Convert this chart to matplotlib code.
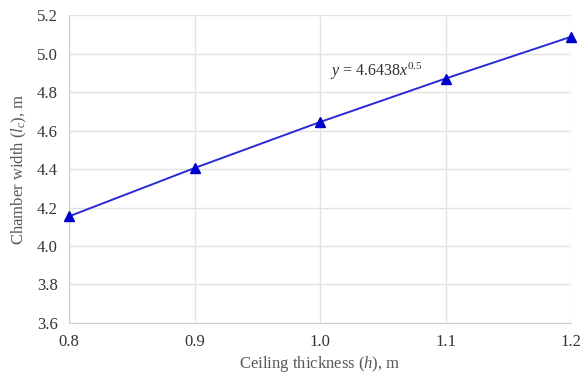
import matplotlib
matplotlib.use("Agg")
import matplotlib.pyplot as plt

# data
thickness = [0.8, 0.9, 1.0, 1.1, 1.2]
width = [4.154, 4.405, 4.644, 4.870, 5.087]
x_ticks = [0.8, 0.9, 1.0, 1.1, 1.2]
y_ticks = [3.6, 3.8, 4.0, 4.2, 4.4, 4.6, 4.8, 5.0, 5.2]

plt.rcParams['font.family'] = ['Liberation Serif', 'DejaVu Serif']
plt.rcParams['mathtext.fontset'] = 'custom'
plt.rcParams['mathtext.rm'] = 'Liberation Serif'
plt.rcParams['mathtext.it'] = 'Liberation Serif:italic'
text_col = '#595959'

fig = plt.figure(figsize=(5.82, 3.76), dpi=100)
ax = fig.add_axes([0.1186, 0.141, 0.8625, 0.819])

ax.plot(thickness, width, color='#2a2ad8', lw=1.4, marker='^', ms=7,
        markerfacecolor='#0000cc', markeredgecolor='#0000cc', zorder=3,
        clip_on=False)

ax.set_xlim(0.8, 1.2)
ax.set_ylim(3.6, 5.2)
ax.set_xticks(x_ticks)
ax.set_yticks(y_ticks)
ax.set_xticklabels([f"{v:.1f}" for v in x_ticks])
ax.set_yticklabels([f"{v:.1f}" for v in y_ticks])
ax.tick_params(length=0, labelsize=12, labelcolor='#333333')
ax.tick_params(axis='x', pad=8)
ax.tick_params(axis='y', pad=8)

ax.grid(True, color='#e3e3e3', lw=1)
ax.set_axisbelow(True)
for s in ax.spines.values():
    s.set_visible(False)
ax.spines['left'].set_visible(True)
ax.spines['bottom'].set_visible(True)
ax.spines['left'].set_color('#d0d0d0')
ax.spines['bottom'].set_color('#d0d0d0')

ax.set_xlabel('Ceiling thickness ($h$), m', fontsize=12, color=text_col, labelpad=3)
ax.set_ylabel('Chamber width ($l_c$), m', fontsize=12, color=text_col, labelpad=6)

ax.text(1.008, 4.905, '$y$ = 4.6438$x^{0.5}$', fontsize=11.5, color='#303030',
        va='center', ha='left')

fig.savefig('out.png', dpi=100)
